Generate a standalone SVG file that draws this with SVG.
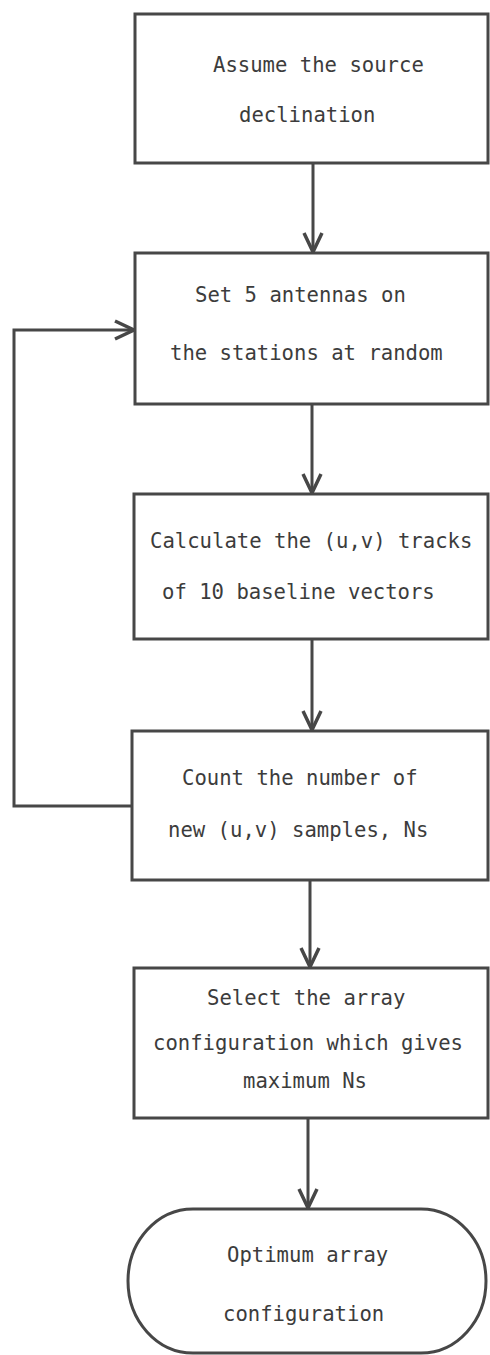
<svg xmlns="http://www.w3.org/2000/svg" width="490" height="1355" viewBox="0 0 490 1355">
<style>
.box{fill:#fff;stroke:#474747;stroke-width:3}
.t{font-family:"DejaVu Sans Mono","Liberation Mono",monospace;font-size:20.6px;fill:#3c3c3c}
.c{fill:none;stroke:#474747;stroke-width:3}
</style>
<defs>
<marker id="ah" markerUnits="userSpaceOnUse" orient="auto" markerWidth="30" markerHeight="30" refX="0" refY="0" viewBox="-25 -15 30 30" overflow="visible">
<path d="M-19,-9 L0,0 L-19,9" fill="none" stroke="#474747" stroke-width="3.5"/>
</marker>
</defs>
<rect width="490" height="1355" fill="#fff"/>
<g id="connectors">
<path class="c" d="M313,163 V252" marker-end="url(#ah)"/>
<path class="c" d="M312,404 V493" marker-end="url(#ah)"/>
<path class="c" d="M312,639 V730" marker-end="url(#ah)"/>
<path class="c" d="M310,880 V967" marker-end="url(#ah)"/>
<path class="c" d="M308,1118 V1208" marker-end="url(#ah)"/>
<path class="c" d="M132,806 H14 V330 H134" marker-end="url(#ah)"/>
</g>
<g id="n1">
<rect class="box" x="135" y="14" width="353" height="149"/>
<text class="t" x="213" y="72">Assume the source</text>
<text class="t" x="239" y="122">declination</text>
</g>
<g id="n2">
<rect class="box" x="135" y="253" width="353" height="151"/>
<text class="t" x="195" y="302">Set 5 antennas on</text>
<text class="t" x="170" y="360">the stations at random</text>
</g>
<g id="n3">
<rect class="box" x="134" y="494" width="354" height="145"/>
<text class="t" x="150" y="548">Calculate the (u,v) tracks</text>
<text class="t" x="162" y="599">of 10 baseline vectors</text>
</g>
<g id="n4">
<rect class="box" x="132" y="731" width="356" height="149"/>
<text class="t" x="182" y="785">Count the number of</text>
<text class="t" x="168" y="837">new (u,v) samples, Ns</text>
</g>
<g id="n5">
<rect class="box" x="134" y="968" width="354" height="150"/>
<text class="t" x="207" y="1005">Select the array</text>
<text class="t" x="153" y="1050">configuration which gives</text>
<text class="t" x="243" y="1088">maximum Ns</text>
</g>
<g id="n6">
<path class="box" d="M193,1209 H421 A65,72 0 0 1 421,1353 H193 A65,72 0 0 1 193,1209 Z"/>
<text class="t" x="227" y="1262">Optimum array</text>
<text class="t" x="223" y="1321">configuration</text>
</g>
</svg>
